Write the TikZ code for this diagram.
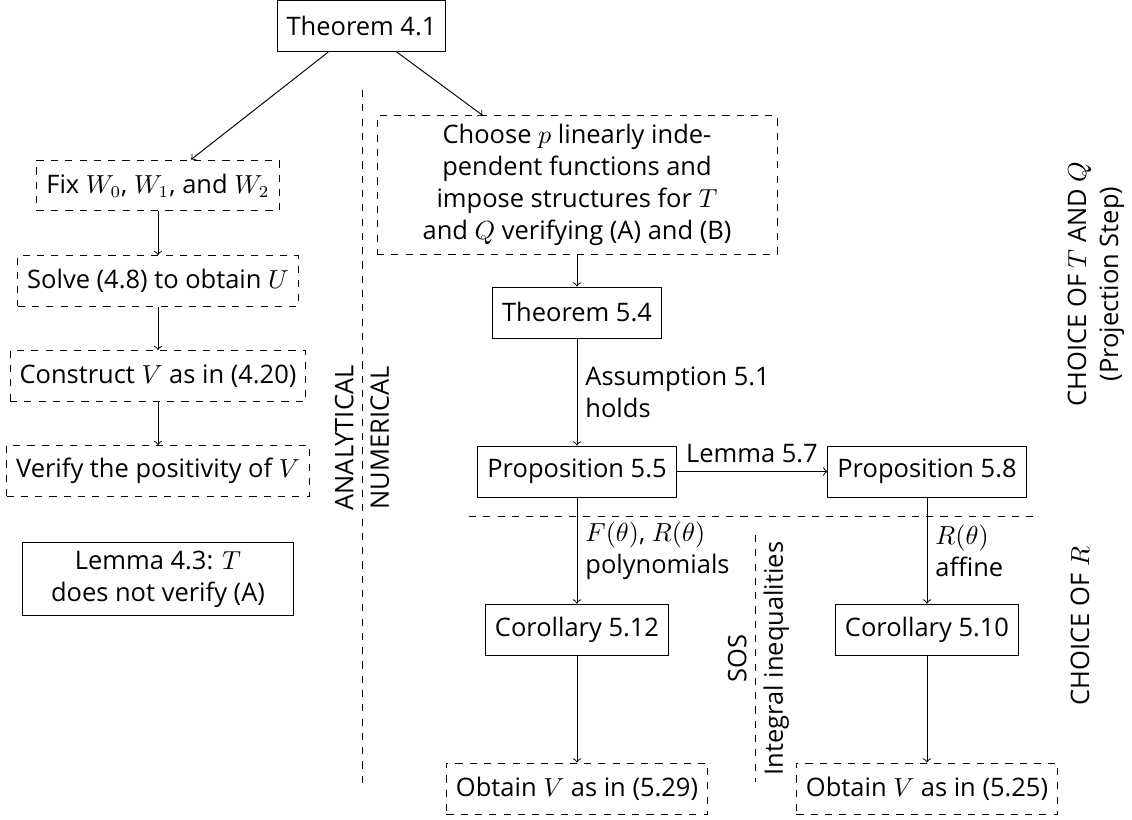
\documentclass[tikz,border=0pt]{standalone}
\usepackage[no-math]{fontspec}
\setmainfont{Open Sans}
\begin{document}
\begin{tikzpicture}[x=0.42pt,y=-0.42pt,
  every node/.style={font=\fontsize{10.7pt}{13.4pt}\selectfont},
  box/.style={draw, inner xsep=4pt, inner ysep=3.6pt, minimum height=21.4pt, align=center},
  dbox/.style={box, dashed},
  sbox/.style={box},
  arr/.style={->},
  sep/.style={dashed},
  side/.style={align=left, right}
]
\useasboundingbox (0,0) rectangle (1132,820);

% analytical branch
\node[sbox] (t41) at (361.5,26) {Theorem 4.1};
\node[dbox] (fix) at (158,185.5) {Fix $W_0$, $W_1$, and $W_2$};
\node[dbox] (solve) at (158,281) {Solve (4.8) to obtain $U$};
\node[dbox] (constr) at (158,376) {Construct $V$ as in (4.20)};
\node[dbox] (verify) at (158,471) {Verify the positivity of $V$};
\node[sbox, minimum width=114pt] (l43) at (158,579) {Lemma 4.3: $T$\\does not verify (A)};

% numerical branch
\node[dbox, minimum width=168pt] (choose) at (577,185) {Choose $p$ linearly inde-\\pendent functions and\\impose structures for $T$\\and $Q$ verifying (A) and (B)};
\node[sbox] (t54) at (577,312.5) {Theorem 5.4};
\node[sbox] (p55) at (577,471.5) {Proposition 5.5};
\node[sbox] (p58) at (927,471.5) {Proposition 5.8};
\node[sbox] (c512) at (577,629.5) {Corollary 5.12};
\node[sbox] (c510) at (927,629.5) {Corollary 5.10};
\node[dbox] (o529) at (577,788.5) {Obtain $V$ as in (5.29)};
\node[dbox] (o525) at (927,788.5) {Obtain $V$ as in (5.25)};

% connectors
\draw[arr] (t41) -- (fix);
\draw[arr] (t41) -- (choose);
\draw[arr] (fix) -- (solve);
\draw[arr] (solve) -- (constr);
\draw[arr] (constr) -- (verify);
\draw[arr] (choose) -- (t54);
\draw[arr] (t54) -- node[side] {Assumption 5.1\\holds} (p55);
\draw[arr] (p55) -- node[above] {Lemma 5.7} (p58);
\draw[arr] (p55) -- node[side] {$F(\theta)$, $R(\theta)$\\polynomials} (c512);
\draw[arr] (c512) -- (o529);
\draw[arr] (p58) -- node[side] {$R(\theta)$\\affine} (c510);
\draw[arr] (c510) -- (o525);

% separators
\coordinate (va) at (362,90);
\coordinate (vb) at (362,783);
\draw[sep] (va) -- (vb);
\node[rotate=90, anchor=south] (ana) at (362,438) {ANALYTICAL};
\node[rotate=90, anchor=north] (num) at (362,438) {NUMERICAL};

\coordinate (ha) at (469,516);
\coordinate (hb) at (1037,516);
\draw[sep] (ha) -- (hb);

\coordinate (sa) at (755,535);
\coordinate (sb) at (755,782);
\draw[sep] (sa) -- (sb);
\node[rotate=90, anchor=south] (sos) at (755,658.5) {SOS};
\node[rotate=90, anchor=north] (intg) at (755,658.5) {Integral inequalities};

% stage labels
\node[rotate=90, align=center] (choiceTQ) at (1096,284) {CHOICE OF $T$ AND $Q$\\(Projection Step)};
\node[rotate=90] (choiceR) at (1080,626) {CHOICE OF $R$};
\end{tikzpicture}
\end{document}
